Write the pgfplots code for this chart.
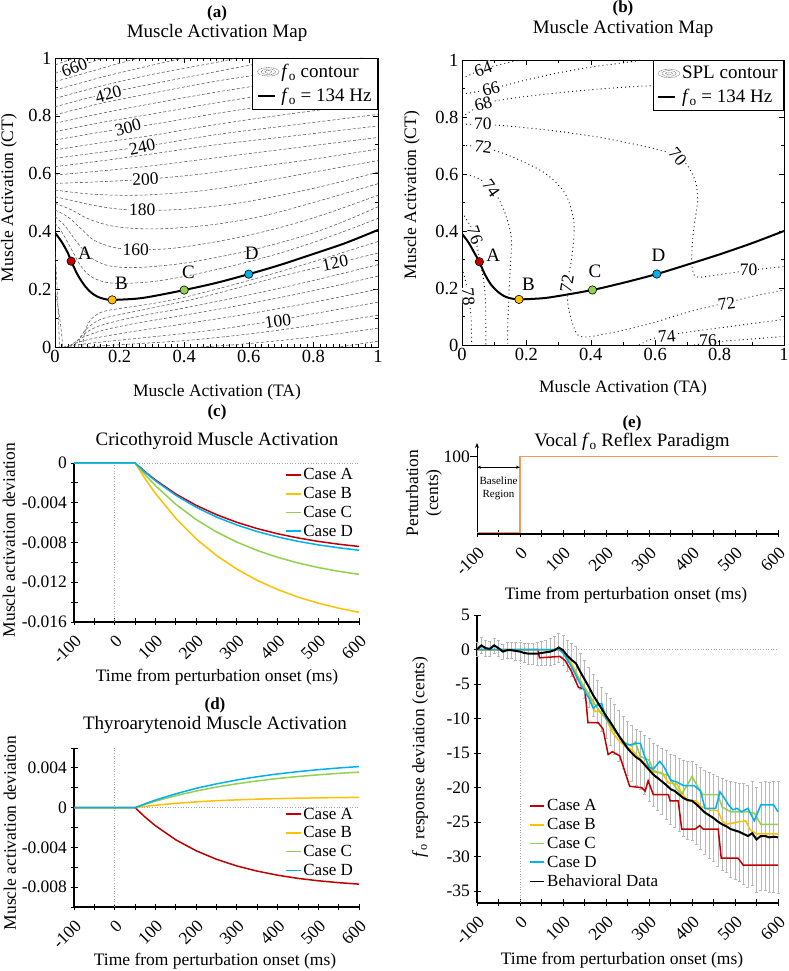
\documentclass[border=0pt]{standalone}
\usepackage{fontspec}
\setmainfont{Liberation Serif}
\usepackage{pgfplots}
\usepackage{pgfplotstable}
\pgfplotsset{compat=1.18}
\usetikzlibrary{arrows.meta}
\definecolor{cA}{RGB}{192,0,0}
\definecolor{cB}{RGB}{255,192,0}
\definecolor{cC}{RGB}{146,208,80}
\definecolor{cD}{RGB}{0,176,240}
\definecolor{cP}{RGB}{241,155,90}
\definecolor{cont}{RGB}{85,85,85}
\newcommand{\fo}{\textit{f}\textsubscript{o}}
\newcommand{\ft}{\fontsize{17.5}{20}\selectfont}
\newcommand{\fm}{\fontsize{18.5}{21}\selectfont}
\newcommand{\fT}{\fontsize{19}{22}\selectfont}
\newcommand{\fLg}{\fontsize{17}{19}\selectfont}
\pgfplotsset{
 every axis/.append style={scale only axis, font=\ft,
   /pgf/number format/assume math mode=true, scaled ticks=false},
 cnt/.style={forget plot, smooth, tension=0.55, cont, line width=0.55pt, dash pattern=on 3pt off 2pt},
 spl/.style={forget plot, smooth, tension=0.5, black, line width=0.9pt, dash pattern=on 0.9pt off 3.2pt},
 pt/.style={only marks, mark=*, mark size=4.2pt, mark options={fill=#1, draw=black, line width=0.6pt}, forget plot},
 contleg/.style={legend image code/.code={\draw[cont, line width=0.45pt, dash pattern=on 1pt off 0.7pt] (0.38cm,0cm) ellipse (0.38cm and 0.15cm) (0.38cm,0cm) ellipse (0.25cm and 0.1cm) (0.38cm,0cm) ellipse (0.12cm and 0.05cm);}},
 splleg/.style={legend image code/.code={\draw[cont, line width=0.45pt, dash pattern=on 0.6pt off 0.6pt] (0.38cm,0cm) ellipse (0.38cm and 0.15cm) (0.38cm,0cm) ellipse (0.25cm and 0.1cm) (0.38cm,0cm) ellipse (0.12cm and 0.05cm);}},
 map/.style={xmin=0,xmax=1,ymin=0,ymax=1, xtick={0,0.2,0.4,0.6,0.8,1}, xticklabels={0,0.2,0.4,0.6,0.8,1},
   ytick={0,0.2,0.4,0.6,0.8,1}, yticklabels={0,0.2,0.4,0.6,0.8,1}, tick align=inside,
   xticklabel style={font=\fm}, yticklabel style={font=\fm},
   major tick length=5pt, minor tick length=3pt, tick style={black, line width=0.5pt},
   axis line style={line width=0.8pt},
   legend style={at={(1,1)}, anchor=north east, draw=black, line width=0.8pt, fill=white, font=\fT, inner sep=4pt, row sep=5pt},
   legend cell align=left},
 ts/.style={axis lines*=left, xmin=-100, xmax=600, xtick={-100,0,100,200,300,400,500,600},
   xticklabels={-100,0,100,200,300,400,500,600}, minor xtick={-50,50,150,250,350,450,550},
   xticklabel style={font=\ft, yshift=-5pt, rotate=45, anchor=north east, inner sep=2pt}, yticklabel style={font=\ft},
   tick align=center,
   major tick length=7pt, minor tick length=7pt, tick style={black, line width=0.8pt},
   axis line style={line width=1.1pt}, clip=false,
   legend style={draw=none, fill=none, font=\fLg, inner sep=1pt, row sep=2pt},
   legend image code/.code={\draw[##1, line width=1.6pt] (0cm,0cm) -- (0.5cm,0cm);},
   legend cell align=left},
 cl/.style={line width=1.5pt},
}
\pgfplotstableread{
t y e
-100 0.0 1.0
-90 0.6 1.2
-80 0.2 1.2
-70 0.1 1.1
-60 0.6 1.1
-50 0.2 1.2
-40 -0.3 1.1
-30 -0.1 1.2
-20 -0.1 1.2
-10 -0.2 1.3
0 -0.3 1.3
10 -0.5 1.4
20 -0.6 1.5
30 -0.6 1.5
40 -0.6 1.6
50 -0.5 1.7
60 -0.4 1.8
70 -0.3 1.9
80 -0.1 2.0
90 0.3 2.1
100 -0.1 2.2
110 -0.9 2.3
120 -1.5 2.4
130 -2.0 2.5
140 -3.2 2.6
150 -4.3 2.8
160 -5.4 2.9
170 -6.6 3.0
180 -7.6 3.1
190 -8.6 3.2
200 -9.6 3.3
210 -10.5 3.4
220 -11.5 3.6
230 -12.5 3.7
240 -13.4 3.8
250 -14.3 3.9
260 -15.0 4.0
270 -15.6 4.1
280 -16.0 4.2
290 -16.7 4.3
300 -17.4 4.5
310 -18.1 4.6
320 -18.6 4.7
330 -19.1 4.8
340 -19.6 5.0
350 -20.2 5.1
360 -20.5 5.2
370 -21.0 5.3
380 -21.5 5.5
390 -21.8 5.6
400 -21.9 5.7
410 -22.4 5.8
420 -23.0 5.9
430 -23.6 6.1
440 -24.0 6.2
450 -24.4 6.3
460 -24.9 6.5
470 -25.3 6.6
480 -25.6 6.7
490 -26.0 6.9
500 -26.2 7.0
510 -26.4 7.1
520 -26.7 7.3
530 -27.0 7.4
540 -26.6 7.5
550 -27.5 7.6
560 -27.0 7.8
570 -27.0 7.9
580 -27.2 8.0
590 -27.1 8.0
600 -27.2 8.1
}\behav
\begin{document}
\begin{tikzpicture}[x=1pt,y=1pt]
\path[use as bounding box] (0,0) rectangle (789,971);

% ---------------- (a)
\begin{axis}[map, at={(55pt,624pt)}, anchor=south west, width=323pt, height=289pt, minor x tick num=9, minor y tick num=1]
\addlegendimage{contleg}\addlegendentry{\fT\fo{} contour}
\addlegendimage{black, line width=2.2pt}\addlegendentry{\fT\fo{} = 134 Hz}
\addplot[cnt] coordinates {(0,0.428)(0.02,0.4)(0.05,0.34)(0.08,0.28)(0.11,0.245)(0.15,0.226)(0.2,0.22)(0.3,0.226)(0.4,0.244)(0.5,0.268)(0.6,0.295)(0.7,0.326)(0.8,0.362)(0.9,0.402)(1,0.445)};
\addplot[cnt] coordinates {(0,0.451)(0.03,0.42)(0.07,0.36)(0.11,0.31)(0.16,0.283)(0.22,0.275)(0.3,0.278)(0.4,0.29)(0.5,0.31)(0.6,0.333)(0.7,0.362)(0.8,0.395)(0.9,0.437)(1,0.485)};
\addplot[cnt] coordinates {(0,0.474)(0.04,0.45)(0.08,0.41)(0.12,0.37)(0.18,0.345)(0.25,0.337)(0.35,0.34)(0.45,0.355)(0.55,0.375)(0.65,0.4)(0.75,0.43)(0.85,0.465)(1,0.525)};
\addplot[cnt] coordinates {(0,0.497)(0.05,0.475)(0.1,0.445)(0.17,0.42)(0.25,0.41)(0.35,0.41)(0.5,0.425)(0.65,0.455)(0.8,0.5)(1,0.565)};
\addplot[cnt] coordinates {(0,0.52)(0.06,0.505)(0.12,0.49)(0.2,0.477)(0.3,0.473)(0.4,0.477)(0.55,0.495)(0.7,0.525)(0.85,0.562)(1,0.605)};
\addplot[cnt] coordinates {(0,0.543)(0.1,0.53)(0.2,0.525)(0.3,0.527)(0.45,0.54)(0.6,0.565)(0.8,0.605)(1,0.645)};
\addplot[cnt] coordinates {(0,0.566)(0.1,0.57)(0.2,0.575)(0.3,0.582)(0.45,0.598)(0.6,0.62)(0.8,0.65)(1,0.685)};
\addplot[cnt] coordinates {(0,0.595)(0.15,0.61)(0.3,0.627)(0.5,0.655)(0.75,0.69)(1,0.725)};
\addplot[cnt] coordinates {(0,0.624)(0.15,0.645)(0.3,0.668)(0.5,0.7)(0.75,0.732)(1,0.765)};
\addplot[cnt] coordinates {(0,0.653)(0.15,0.675)(0.3,0.698)(0.5,0.735)(0.75,0.77)(1,0.805)};
\addplot[cnt] coordinates {(0,0.682)(0.15,0.708)(0.3,0.732)(0.5,0.77)(0.75,0.81)(1,0.845)};
\addplot[cnt] coordinates {(0,0.716)(0.15,0.745)(0.3,0.77)(0.5,0.808)(0.75,0.85)(1,0.885)};
\addplot[cnt] coordinates {(0,0.745)(0.15,0.778)(0.3,0.806)(0.5,0.845)(0.75,0.888)(1,0.925)};
\addplot[cnt] coordinates {(0,0.774)(0.15,0.81)(0.3,0.842)(0.5,0.882)(0.75,0.925)(1,0.965)};
\addplot[cnt] coordinates {(0,0.803)(0.15,0.845)(0.3,0.878)(0.5,0.92)(0.75,0.962)(0.95,1)};
\addplot[cnt] coordinates {(0,0.831)(0.15,0.875)(0.3,0.91)(0.5,0.953)(0.72,1)};
\addplot[cnt] coordinates {(0,0.86)(0.15,0.905)(0.3,0.943)(0.5,0.985)(0.56,1)};
\addplot[cnt] coordinates {(0,0.889)(0.15,0.935)(0.3,0.975)(0.4,1)};
\addplot[cnt] coordinates {(0,0.918)(0.1,0.95)(0.2,0.982)(0.26,1)};
\addplot[cnt] coordinates {(0,0.947)(0.1,0.982)(0.15,1)};
\addplot[cnt] coordinates {(0,0.976)(0.06,1)};
\addplot[cnt] coordinates {(0,0.33)(0.006,0.22)(0.01,0.12)(0.014,0)};
\addplot[cnt] coordinates {(0,0.2)(0.012,0.12)(0.02,0.05)(0.024,0)};
\addplot[cnt] coordinates {(1,0.365)(0.9,0.33)(0.8,0.295)(0.7,0.262)(0.6,0.23)(0.5,0.2)(0.4,0.172)(0.3,0.15)(0.2,0.133)(0.15,0.123)(0.12,0.105)(0.1,0.075)(0.09,0.04)(0.086,0)};
\addplot[cnt] coordinates {(1,0.325)(0.87,0.29)(0.7,0.245)(0.6,0.215)(0.5,0.185)(0.4,0.158)(0.3,0.135)(0.2,0.112)(0.14,0.095)(0.1,0.065)(0.08,0.035)(0.073,0)};
\addplot[cnt] coordinates {(1,0.285)(0.8,0.23)(0.6,0.18)(0.4,0.135)(0.3,0.115)(0.2,0.092)(0.13,0.07)(0.09,0.045)(0.068,0.02)(0.06,0)};
\addplot[cnt] coordinates {(1,0.245)(0.8,0.195)(0.6,0.15)(0.4,0.11)(0.25,0.082)(0.15,0.058)(0.09,0.035)(0.06,0.015)(0.048,0)};
\addplot[cnt] coordinates {(1,0.2)(0.8,0.155)(0.6,0.115)(0.4,0.08)(0.25,0.055)(0.12,0.03)(0.06,0.012)(0.037,0)};
\addplot[cnt] coordinates {(1,0.155)(0.8,0.115)(0.69,0.093)(0.5,0.06)(0.3,0.035)(0.15,0.018)(0.05,0.005)(0.027,0)};
\addplot[cnt] coordinates {(1,0.11)(0.8,0.075)(0.6,0.045)(0.4,0.022)(0.2,0.008)(0.1,0)};
\addplot[cnt] coordinates {(1,0.065)(0.8,0.035)(0.6,0.012)(0.45,0)};
\addplot[cnt] coordinates {(1,0.02)(0.88,0)};
\node[fill=white, inner sep=0.5pt, rotate=20] at (axis cs:0.06,0.965) {660};
\node[fill=white, inner sep=0.5pt, rotate=15] at (axis cs:0.165,0.875) {420};
\node[fill=white, inner sep=0.5pt, rotate=15] at (axis cs:0.226,0.76) {300};
\node[fill=white, inner sep=0.5pt, rotate=12] at (axis cs:0.27,0.692) {240};
\node[fill=white, inner sep=0.5pt, rotate=3] at (axis cs:0.28,0.58) {200};
\node[fill=white, inner sep=0.5pt] at (axis cs:0.27,0.474) {180};
\node[fill=white, inner sep=0.5pt] at (axis cs:0.25,0.337) {160};
\node[fill=white, inner sep=0.5pt, rotate=12] at (axis cs:0.867,0.29) {120};
\node[fill=white, inner sep=0.5pt, rotate=8] at (axis cs:0.69,0.09) {100};
\addplot[forget plot, smooth, tension=0.5, black, line width=2pt] coordinates {(0,0.395)(0.02,0.365)(0.04,0.325)(0.05,0.297)(0.07,0.25)(0.09,0.215)(0.11,0.19)(0.13,0.175)(0.15,0.167)(0.177,0.163)(0.25,0.167)(0.3,0.175)(0.4,0.197)(0.5,0.222)(0.6,0.252)(0.7,0.285)(0.8,0.322)(0.9,0.36)(1,0.405)};
\addplot[pt=cA] coordinates {(0.05,0.297)};
\addplot[pt=cB] coordinates {(0.177,0.163)};
\addplot[pt=cC] coordinates {(0.4,0.197)};
\addplot[pt=cD] coordinates {(0.6,0.252)};
\node[font=\fT] at (axis cs:0.093,0.325) {A};
\node[font=\fT] at (axis cs:0.206,0.22) {B};
\node[font=\fT] at (axis cs:0.413,0.26) {C};
\node[font=\fT] at (axis cs:0.609,0.324) {D};
\end{axis}

% ---------------- (b)
\begin{axis}[map, at={(462pt,626pt)}, anchor=south west, width=322pt, height=285pt, minor x tick num=1, minor y tick num=1]
\addlegendimage{splleg}\addlegendentry{\fT SPL contour}
\addlegendimage{black, line width=2.2pt}\addlegendentry{\fT\fo{} = 134 Hz}
\addplot[spl] coordinates {(0,0.935)(0.066,0.968)(0.14,0.99)(0.18,1)};
\addplot[spl] coordinates {(0,0.88)(0.08,0.896)(0.2,0.93)(0.3,0.955)(0.4,0.975)(0.5,0.99)(0.56,1)};
\addplot[spl] coordinates {(0,0.8)(0.04,0.83)(0.07,0.848)(0.15,0.865)(0.3,0.885)(0.45,0.9)(0.6,0.91)(1,0.92)};
\addplot[spl] coordinates {(0,0.775)(0.1,0.772)(0.2,0.762)(0.31,0.748)(0.42,0.73)(0.52,0.708)(0.6,0.688)(0.667,0.665)(0.7,0.63)(0.725,0.573)(0.732,0.509)(0.725,0.45)(0.718,0.393)(0.713,0.3)(0.718,0.255)(0.735,0.238)(0.83,0.252)(0.9,0.263)(1,0.275)};
\addplot[spl] coordinates {(0,0.70)(0.066,0.694)(0.154,0.661)(0.258,0.603)(0.32,0.532)(0.345,0.45)(0.348,0.39)(0.34,0.3)(0.327,0.216)(0.33,0.134)(0.345,0.07)(0.36,0.035)(0.39,0.028)(0.45,0.04)(0.506,0.053)(0.6,0.08)(0.7,0.115)(0.82,0.148)(0.9,0.17)(1,0.193)};
\addplot[spl] coordinates {(0,0.602)(0.05,0.585)(0.087,0.556)(0.115,0.51)(0.134,0.462)(0.15,0.4)(0.154,0.35)(0.15,0.275)(0.145,0.158)(0.142,0.07)(0.142,0)};
\addplot[spl] coordinates {(0.55,0)(0.6,0.025)(0.7,0.045)(0.8,0.06)(0.9,0.075)(1,0.09)};
\addplot[spl] coordinates {(0,0.465)(0.025,0.42)(0.04,0.38)(0.055,0.3)(0.068,0.22)(0.073,0.15)(0.074,0.05)(0.074,0)};
\addplot[spl] coordinates {(0.72,0)(0.8,0.012)(0.9,0.021)(1,0.03)};
\addplot[spl] coordinates {(0,0.27)(0.012,0.22)(0.02,0.17)(0.028,0.1)(0.03,0)};
\node[fill=white, inner sep=0.3pt, rotate=20] at (axis cs:0.066,0.968) {64};
\node[fill=white, inner sep=0.3pt, rotate=15] at (axis cs:0.09,0.9) {66};
\node[fill=white, inner sep=0.3pt, rotate=15] at (axis cs:0.066,0.846) {68};
\node[fill=white, inner sep=0.3pt] at (axis cs:0.065,0.775) {70};
\node[fill=white, inner sep=0.3pt, rotate=-8] at (axis cs:0.066,0.694) {72};
\node[fill=white, inner sep=0.3pt, rotate=-55] at (axis cs:0.09,0.55) {74};
\node[fill=white, inner sep=0.3pt, rotate=-70] at (axis cs:0.04,0.385) {76};
\node[fill=white, inner sep=0.3pt, rotate=-85] at (axis cs:0.02,0.17) {78};
\node[fill=white, inner sep=0.3pt, rotate=-50] at (axis cs:0.67,0.662) {70};
\node[fill=white, inner sep=0.3pt, rotate=80] at (axis cs:0.326,0.216) {72};
\node[fill=white, inner sep=0.3pt] at (axis cs:0.89,0.263) {70};
\node[fill=white, inner sep=0.3pt, rotate=8] at (axis cs:0.822,0.146) {72};
\node[fill=white, inner sep=0.3pt, rotate=5] at (axis cs:0.636,0.03) {74};
\node[fill=white, inner sep=0.3pt, rotate=3] at (axis cs:0.764,0.016) {76};
\addplot[forget plot, smooth, tension=0.5, black, line width=2pt] coordinates {(0,0.39)(0.02,0.36)(0.04,0.32)(0.054,0.292)(0.07,0.25)(0.09,0.212)(0.11,0.188)(0.13,0.172)(0.15,0.164)(0.177,0.16)(0.25,0.164)(0.3,0.172)(0.405,0.193)(0.5,0.218)(0.605,0.249)(0.7,0.282)(0.8,0.318)(0.9,0.357)(1,0.4)};
\addplot[pt=cA] coordinates {(0.054,0.292)};
\addplot[pt=cB] coordinates {(0.177,0.16)};
\addplot[pt=cC] coordinates {(0.405,0.193)};
\addplot[pt=cD] coordinates {(0.605,0.249)};
\node[font=\fT] at (axis cs:0.097,0.316) {A};
\node[font=\fT] at (axis cs:0.206,0.214) {B};
\node[font=\fT] at (axis cs:0.413,0.257) {C};
\node[font=\fT] at (axis cs:0.61,0.316) {D};
\end{axis}

% ---------------- (c)
\begin{axis}[ts, at={(74pt,349pt)}, anchor=south west, width=285pt, height=159pt, ymin=-0.016, ymax=0,
  ytick={-0.016,-0.012,-0.008,-0.004,0}, yticklabels={-0.016,-0.012,-0.008,-0.004,0},
  minor ytick={-0.014,-0.010,-0.006,-0.002},
  legend style={at={(0.99,0.985)}, anchor=north east}]
\addplot[forget plot, gray!70, dotted, line width=0.6pt] coordinates {(-100,0)(600,0)};
\addplot[forget plot, gray!70, dotted, line width=0.6pt] coordinates {(0,-0.016)(0,0)};
\addplot[cl, cA] coordinates {(-100,0)(50,0)(75,-0.00090)(100,-0.00171)(150,-0.00312)(200,-0.00426)(250,-0.00520)(300,-0.00597)(350,-0.00660)(400,-0.00712)(450,-0.00754)(500,-0.00789)(550,-0.00817)(600,-0.00840)};
\addlegendentry{Case A}
\addplot[cl, cB] coordinates {(-100,0)(50,0)(75,-0.00161)(100,-0.00306)(150,-0.00557)(200,-0.00763)(250,-0.00931)(300,-0.01068)(350,-0.01181)(400,-0.01273)(450,-0.01349)(500,-0.01411)(550,-0.01461)(600,-0.01503)};
\addlegendentry{Case B}
\addplot[cl, cC] coordinates {(-100,0)(50,0)(75,-0.00120)(100,-0.00228)(150,-0.00415)(200,-0.00569)(250,-0.00694)(300,-0.00796)(350,-0.00880)(400,-0.00949)(450,-0.01006)(500,-0.01052)(550,-0.01090)(600,-0.01120)};
\addlegendentry{Case C}
\addplot[cl, cD] coordinates {(-100,0)(50,0)(75,-0.00094)(100,-0.00179)(150,-0.00325)(200,-0.00445)(250,-0.00544)(300,-0.00624)(350,-0.00690)(400,-0.00744)(450,-0.00788)(500,-0.00824)(550,-0.00853)(600,-0.00878)};
\addlegendentry{Case D}
\end{axis}

% ---------------- (d)
\begin{axis}[ts, at={(74pt,64pt)}, anchor=south west, width=285pt, height=159pt, ymin=-0.010, ymax=0.006,
  ytick={-0.008,-0.004,0,0.004}, yticklabels={-0.008,-0.004,0,0.004},
  minor ytick={-0.010,-0.006,-0.002,0.002,0.006},
  legend style={at={(0.99,0.17)}, anchor=south east}]
\addplot[forget plot, gray!70, dotted, line width=0.6pt] coordinates {(-100,0)(600,0)};
\addplot[forget plot, gray!70, dotted, line width=0.6pt] coordinates {(0,-0.010)(0,0.006)};
\addplot[cl, cA] coordinates {(-100,0)(50,0)(75,-0.00097)(100,-0.00182)(150,-0.00324)(200,-0.00434)(250,-0.00520)(300,-0.00587)(350,-0.00639)(400,-0.00680)(450,-0.00712)(500,-0.00736)(550,-0.00755)(600,-0.00770)};
\addlegendentry{Case A}
\addplot[cl, cB] coordinates {(-100,0)(50,0)(75,0.00013)(100,0.00024)(150,0.00043)(200,0.00058)(250,0.00070)(300,0.00078)(350,0.00085)(400,0.00091)(450,0.00095)(500,0.00098)(550,0.00101)(600,0.00103)};
\addlegendentry{Case B}
\addplot[cl, cC] coordinates {(-100,0)(50,0)(75,0.00034)(100,0.00065)(150,0.00120)(200,0.00167)(250,0.00207)(300,0.00240)(350,0.00269)(400,0.00293)(450,0.00313)(500,0.00330)(550,0.00345)(600,0.00357)};
\addlegendentry{Case C}
\addplot[cl, cD] coordinates {(-100,0)(50,0)(75,0.00039)(100,0.00076)(150,0.00139)(200,0.00194)(250,0.00239)(300,0.00278)(350,0.00311)(400,0.00339)(450,0.00362)(500,0.00382)(550,0.00399)(600,0.00413)};
\addlegendentry{Case D}
\end{axis}

% ---------------- (e) top
\begin{axis}[ts, at={(477pt,437pt)}, anchor=south west, width=301pt, height=91pt, ymin=-2, ymax=118,
  axis x line*=bottom, axis y line*=left,
  y axis line style={-{Stealth[length=5pt,width=4pt]}, line width=0.8pt},
  ytick={100}, yticklabels={100}, ytick style={xshift=-3.5pt}]
\addplot[forget plot, cP, line width=1.6pt] coordinates {(-100,0)(0,0)(0,100)(600,100)};
\addplot[forget plot, black, line width=0.5pt, {Stealth[length=4pt,width=3pt]}-{Stealth[length=4pt,width=3pt]}] coordinates {(-100,86)(0,86)};
\node[font=\fontsize{11}{12.5}\selectfont, align=center] at (axis cs:-50,58) {Baseline\\Region};
\end{axis}

% ---------------- (e) bottom
\begin{axis}[ts, at={(477pt,68pt)}, anchor=south west, width=301pt, height=288pt, ymin=-36.7, ymax=5,
  ytick={-35,-30,-25,-20,-15,-10,-5,0,5}, yticklabels={-35,-30,-25,-20,-15,-10,-5,0,5},
  legend style={at={(0.17,0.37)}, anchor=north west}]
\addplot[forget plot, gray!70, dotted, line width=0.6pt] coordinates {(-100,0)(600,0)};
\addplot[forget plot, gray!70, dotted, line width=0.6pt] coordinates {(0,-36.7)(0,1.5)};
\addplot[forget plot, draw=none, mark=none, error bars/.cd, y dir=both, y explicit,
  error bar style={draw=gray!55, line width=0.5pt}, error mark options={rotate=90, draw=gray!55, mark size=1.5pt, line width=0.4pt}]
  table[x=t, y=y, y error=e] {\behav};
\addplot[cl, cA] coordinates {(-100,0)(42,0)(45,-1.2)(93,-1.0)(105,-1.6)(120,-3.2)(136,-5.5)(151,-5.7)(158,-10.6)(182,-10.6)(193,-11.5)(205,-15.2)(215,-14.8)(232,-15.4)(255,-19.8)(283,-20.0)(291,-20.5)(298,-19.0)(310,-21.0)(345,-21.0)(349,-21.9)(368,-21.9)(376,-26.0)(407,-26.0)(418,-25.5)(426,-26.0)(461,-26.0)(468,-30.2)(507,-30.2)(519,-31.2)(600,-31.2)};
\addlegendentry{Case A}
\addplot[cl, cB] coordinates {(-100,0)(95,0)(105,-0.5)(120,-2)(140,-4.5)(160,-6.5)(175,-9)(185,-9)(200,-10)(215,-12)(230,-13.2)(245,-14)(260,-14.5)(280,-15.9)(300,-17)(310,-17.8)(330,-17.8)(345,-19.3)(365,-19.5)(375,-20.7)(390,-21.9)(410,-21.9)(420,-22.7)(445,-23.3)(460,-23.3)(470,-24.8)(480,-25.3)(505,-25)(525,-24.8)(535,-26.1)(550,-26.7)(600,-26.7)};
\addlegendentry{Case B}
\addplot[cl, cC] coordinates {(-100,0)(95,0)(105,-0.5)(120,-2.5)(140,-4.5)(165,-7)(180,-8.5)(200,-10)(215,-11.5)(230,-12.5)(245,-13.5)(260,-14)(268,-13.4)(280,-15.5)(300,-16)(310,-17.5)(330,-18)(345,-18.2)(360,-19.8)(375,-21)(390,-19.5)(400,-18.4)(410,-19.5)(425,-21)(460,-21)(470,-22.8)(490,-23.5)(530,-23.5)(545,-23.7)(560,-25.3)(600,-25.3)};
\addlegendentry{Case C}
\addplot[cl, cD] coordinates {(-100,0)(90,0)(100,-0.5)(120,-2.5)(140,-5)(160,-7)(170,-8.5)(180,-8)(190,-7.8)(200,-10)(215,-11)(230,-12.5)(240,-13.5)(255,-13.8)(270,-13.6)(280,-13.6)(290,-15.5)(300,-17)(310,-17.3)(325,-16.2)(335,-17)(350,-18.9)(365,-19.2)(380,-19.7)(405,-19.7)(420,-20.5)(430,-23)(455,-23)(465,-20.6)(475,-21.5)(485,-22.5)(495,-23.2)(505,-23)(515,-23.5)(530,-23)(545,-24.8)(560,-22.5)(590,-22.5)(600,-23.5)};
\addlegendentry{Case D}
\addplot[black, line width=2pt, mark=none] table[x=t, y=y] {\behav};
\addlegendentry{Behavioral Data}
\end{axis}

% ---------------- titles and labels
\node[font=\fontsize{17}{20}\selectfont\bfseries] at (217,958) {(a)};
\node[font=\fT] at (217,938) {Muscle Activation Map};
\node[font=\ft] at (217,579) {Muscle Activation (TA)};
\node[font=\ft, rotate=90] at (9,773) {Muscle Activation (CT)};
\node[font=\fontsize{17}{20}\selectfont\bfseries] at (623,963) {(b)};
\node[font=\fT] at (623,942) {Muscle Activation Map};
\node[font=\ft] at (623,583) {Muscle Activation (TA)};
\node[font=\ft, rotate=90] at (412,776) {Muscle Activation (CT)};
\node[font=\fontsize{17}{20}\selectfont\bfseries] at (217,559) {(c)};
\node[font=\fT] at (217,530) {Cricothyroid Muscle Activation};
\node[font=\ft] at (217,294) {Time from perturbation onset (ms)};
\node[font=\ft, rotate=90] at (9,431) {Muscle activation deviation};
\node[font=\fontsize{17}{20}\selectfont\bfseries] at (215,266) {(d)};
\node[font=\fT] at (215,246) {Thyroarytenoid Muscle Activation};
\node[font=\ft] at (215,10) {Time from perturbation onset (ms)};
\node[font=\ft, rotate=90] at (10,138) {Muscle activation deviation};
\node[font=\fontsize{17}{20}\selectfont\bfseries] at (632,548) {(e)};
\node[font=\fT] at (632,529) {Vocal \fo{} Reflex Paradigm};
\node[font=\ft] at (626,376) {Time from perturbation onset (ms)};
\node[font=\ft, rotate=90, align=center] at (424,478) {Perturbation\\(cents)};
\node[font=\ft] at (622,11) {Time from perturbation onset (ms)};
\node[font=\ft, rotate=90] at (420,214) {\fo{} response deviation (cents)};
\end{tikzpicture}
\end{document}
